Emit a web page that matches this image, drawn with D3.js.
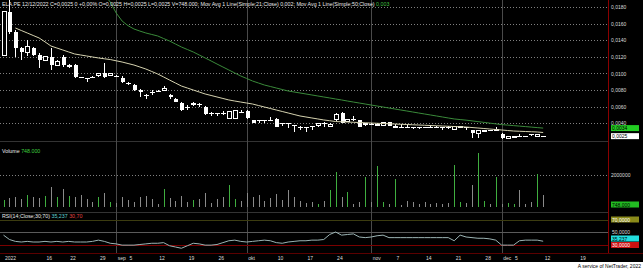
<!DOCTYPE html>
<html><head><meta charset="utf-8">
<script src="https://cdn.jsdelivr.net/npm/d3@7/dist/d3.min.js"></script>
<style>
html,body{margin:0;padding:0;background:#000;}
svg{display:block;}
text{font-family:"Liberation Sans",Arial,sans-serif;}
</style>
</head><body>
<svg id="c" width="643" height="269"></svg>
<script>
// ---------------- DATA ----------------
const dates = [
"2022-08-04","2022-08-05","2022-08-08","2022-08-09","2022-08-10","2022-08-11","2022-08-12","2022-08-16","2022-08-17","2022-08-18",
"2022-08-19","2022-08-22","2022-08-23","2022-08-24","2022-08-25","2022-08-26","2022-08-29","2022-08-30","2022-08-31","2022-09-01",
"2022-09-02","2022-09-05","2022-09-06","2022-09-07","2022-09-08","2022-09-09","2022-09-12","2022-09-13","2022-09-14","2022-09-15",
"2022-09-16","2022-09-19","2022-09-20","2022-09-21","2022-09-22","2022-09-23","2022-09-26","2022-09-27","2022-09-28","2022-09-29",
"2022-09-30","2022-10-03","2022-10-04","2022-10-05","2022-10-06","2022-10-07","2022-10-10","2022-10-11","2022-10-12","2022-10-13",
"2022-10-14","2022-10-17","2022-10-18","2022-10-19","2022-10-20","2022-10-21","2022-10-24","2022-10-25","2022-10-26","2022-10-27",
"2022-10-28","2022-10-31","2022-11-01","2022-11-02","2022-11-03","2022-11-04","2022-11-07","2022-11-08","2022-11-09","2022-11-10",
"2022-11-11","2022-11-14","2022-11-15","2022-11-16","2022-11-17","2022-11-18","2022-11-21","2022-11-22","2022-11-23","2022-11-24",
"2022-11-25","2022-11-28","2022-11-29","2022-11-30","2022-12-01","2022-12-02","2022-12-05","2022-12-06","2022-12-07","2022-12-08",
"2022-12-09","2022-12-12"];

const open = [
.0122,.0174,.0150,.0131,.0125,.0131,.0122,.0116,.0120,.0110,
.0120,.0108,.0110,.0096,.0094,.0096,.0097,.0100,.0098,.0097,
.0094,.0089,.0086,.0080,.0074,.0078,.0079,.0079,.0074,.0069,
.0064,.0060,.0062,.0063,.0060,.0052,.0052,.0052,.0046,.0046,
.0054,.0055,.0044,.0044,.0044,.0044,.0045,.0040,.0040,.0038,
.0036,.0036,.0037,.0037,.0040,.0036,.0044,.0052,.0042,.0045,
.0044,.0038,.0039,.0038,.0037,.0041,.0035,.0036,.0036,.0036,
.0036,.0036,.0035,.0036,.0036,.0035,.0033,.0035,.0035,.0032,
.0028,.0030,.0032,.0031,.0027,.0022,.0023,.0025,.0025,.0027,
.0024,.0025];
const high = [
.0175,.0188,.0152,.0132,.0140,.0132,.0125,.0121,.0131,.0116,
.0122,.0111,.0111,.0096,.0094,.0097,.0101,.0113,.0101,.0098,
.0097,.0090,.0087,.0081,.0075,.0080,.0080,.0085,.0075,.0070,
.0065,.0062,.0065,.0064,.0061,.0053,.0052,.0055,.0054,.0055,
.0056,.0056,.0044,.0044,.0044,.0048,.0046,.0040,.0040,.0038,
.0037,.0036,.0037,.0040,.0041,.0040,.0052,.0053,.0045,.0049,
.0044,.0040,.0040,.0040,.0042,.0042,.0039,.0039,.0038,.0036,
.0036,.0036,.0038,.0037,.0036,.0037,.0036,.0036,.0035,.0032,
.0032,.0031,.0032,.0035,.0028,.0024,.0024,.0027,.0025,.0027,
.0026,.0025];
const low = [
.0121,.0147,.0120,.0116,.0121,.0121,.0107,.0115,.0104,.0109,
.0108,.0107,.0094,.0094,.0090,.0095,.0096,.0095,.0097,.0096,
.0089,.0086,.0079,.0072,.0069,.0074,.0078,.0079,.0069,.0065,
.0055,.0056,.0061,.0060,.0050,.0049,.0049,.0050,.0046,.0045,
.0052,.0045,.0040,.0040,.0040,.0044,.0035,.0037,.0034,.0030,
.0032,.0030,.0032,.0036,.0036,.0036,.0043,.0040,.0041,.0043,
.0035,.0037,.0039,.0038,.0037,.0037,.0035,.0036,.0035,.0033,
.0033,.0034,.0035,.0035,.0032,.0033,.0033,.0035,.0032,.0022,
.0022,.0030,.0031,.0031,.0021,.0022,.0023,.0024,.0025,.0024,
.0024,.0025];
const close = [
.0174,.0150,.0131,.0126,.0132,.0122,.0116,.0120,.0110,.0114,
.0110,.0110,.0096,.0096,.0094,.0096,.0100,.0096,.0100,.0097,
.0090,.0089,.0080,.0077,.0074,.0078,.0079,.0082,.0071,.0066,
.0056,.0060,.0064,.0063,.0051,.0052,.0052,.0052,.0054,.0055,
.0054,.0046,.0040,.0044,.0044,.0044,.0036,.0040,.0040,.0038,
.0036,.0036,.0037,.0040,.0040,.0039,.0051,.0040,.0045,.0045,
.0036,.0040,.0039,.0039,.0041,.0037,.0036,.0036,.0036,.0036,
.0036,.0036,.0035,.0036,.0036,.0035,.0036,.0036,.0035,.0028,
.0031,.0031,.0032,.0033,.0022,.0024,.0024,.0025,.0025,.0027,
.0026,.0025];
const volume = [
450000,550000,600000,500000,750000,600000,550000,700000,1250000,650000,
1150000,700000,600000,750000,500000,300000,600000,850000,300000,250000,
600000,450000,300000,600000,700000,500000,200000,1150000,550000,400000,
700000,300000,450000,500000,850000,250000,500000,600000,1350000,500000,
350000,850000,600000,750000,350000,550000,800000,450000,1050000,600000,
400000,250000,300000,200000,350000,1040000,2190000,630000,940000,200000,
300000,1880000,300000,2540000,300000,200000,1770000,150000,400000,300000,
200000,300000,200000,250000,200000,250000,2600000,300000,250000,1350000,
3375000,400000,200000,1880000,200000,250000,200000,1040000,200000,300000,
2080000,748000];
const ma21 = [
null,null,.01547,.01517,.01487,.01457,.01427,.01380,.01330,.01306,
.01282,.01258,.01234,.01222,.01210,.01198,.01186,.01176,.01167,.01152,
.01137,.01119,.01101,.01077,.01053,.01023,.00993,.00957,.00920,.00884,
.00848,.00824,.00800,.00776,.00752,.00734,.00716,.00698,.00680,.00667,
.00655,.00643,.00631,.00613,.00595,.00577,.00559,.00541,.00523,.00505,
.00487,.00475,.00463,.00451,.00439,.00430,.00420,.00417,.00414,.00411,
.00408,.00405,.00402,.00399,.00396,.00393,.00390,.00387,.00384,.00381,
.00378,.00375,.00372,.00369,.00366,.00363,.00360,.00357,.00354,.00348,
.00342,.00336,.00330,.00324,.00318,.00312,.00306,.00303,.00300,.00297,
.00294,.00288];
const ma50 = [
null,null,null,null,null,null,null,null,null,null,
null,null,null,null,null,null,null,.01950,.01860,.01728,
.01631,.01575,.01535,.01510,.01487,.01469,.01451,.01420,.01390,.01354,
.01318,.01288,.01258,.01222,.01186,.01150,.01113,.01077,.01041,.01005,
.00969,.00939,.00908,.00884,.00860,.00842,.00824,.00806,.00788,.00776,
.00764,.00752,.00740,.00728,.00716,.00704,.00692,.00680,.00667,.00655,
.00643,.00631,.00619,.00607,.00595,.00583,.00571,.00559,.00547,.00535,
.00523,.00511,.00499,.00487,.00475,.00463,.00451,.00444,.00437,.00428,
.00419,.00410,.00401,.00392,.00383,.00377,.00371,.00365,.00359,.00353,
.00347,.00341];
const rsi = [
45,38,35,34,35,34,34,35,34,35,
34,35,34,34,34,35,37,35,32,31,
29,29,29,30,31,32,32,33,28,26,
24,28,32,31,29,29,30,33,36,37,
35,34,35,36,37,36,33,32,34,35,
36,36,37,37,38,46,50,45,46,47,
42,41,42,44,45,41,41,41,41,41,
41,41,41,41,41,41,36,45,42,41,
40,40,39,37,29,29,29,36,37,37,
37,35.237];

const priceTicks = [0.004,0.006,0.008,0.010,0.012,0.014,0.016,0.018];
const volTicks = [2000000];
const rsiLevels = [70,50,30];
// x-axis tick labels: [trading-day index, label]
const xTickIdx = [0,7,11,16,19,21,26,31,36,41,46,51,56,62,66,71,76,81,84,86,91,97];
const xTickLbl = ["2022","16","22","29","sep","5","12","19","26","okt","10","17","24","nov","7","14","21","28","dec","5","12","19"];
const monthStartIdx = [19,41,62,84];

// ---------------- LAYOUT ----------------
const W = 643, H = 269, R = 608;
const svg = d3.select("#c");
svg.append("rect").attr("width",W).attr("height",H).attr("fill","#000");
svg.append("rect").attr("x",0).attr("y",262).attr("width",W).attr("height",7).attr("fill","#fff");

const x = d3.scaleLinear().domain([0,102]).range([3.5,608.4]);
const yP = d3.scaleLinear().domain([0.004,0.018]).range([123.2,7]);
const yV = d3.scaleLinear().domain([0,2000000]).range([207,175]);
const yR = d3.scaleLinear().domain([30,70]).range([244.5,219.5]);
const fmt4 = v => d3.format(".4f")(v).replace(".",",");

const defs = svg.append("defs");
defs.append("clipPath").attr("id","cp").append("rect").attr("x",0).attr("y",0).attr("width",R).attr("height",141);
defs.append("clipPath").attr("id","cv").append("rect").attr("x",0).attr("y",143).attr("width",R).attr("height",69);
defs.append("clipPath").attr("id","cr").append("rect").attr("x",0).attr("y",214).attr("width",R).attr("height",39);

// panel separators
svg.selectAll("line.sep").data([141.5,212.5]).join("line").attr("class","sep")
  .attr("x1",0).attr("x2",R).attr("y1",d=>d).attr("y2",d=>d).attr("stroke","#333");

// vertical month lines
svg.selectAll("line.vm").data(monthStartIdx).join("line").attr("class","vm")
  .attr("x1",d=>Math.round(x(d))+0.5).attr("x2",d=>Math.round(x(d))+0.5)
  .attr("y1",0).attr("y2",253).attr("stroke","#4a4a4a");

// price grid
svg.selectAll("line.pg").data(priceTicks).join("line").attr("class","pg")
  .attr("x1",0).attr("x2",R).attr("y1",d=>Math.round(yP(d))+0.5).attr("y2",d=>Math.round(yP(d))+0.5)
  .attr("stroke","#808080").attr("stroke-dasharray","1,2");

// price axis
const pa = svg.append("g").attr("transform",`translate(${R+3},0)`)
  .call(d3.axisRight(yP).tickValues(priceTicks).tickFormat(fmt4).tickSize(0).tickPadding(0));
pa.select(".domain").remove();
pa.selectAll("text").attr("fill","#ddd").style("font-size","5px").style("font-family","Liberation Sans");

// candles
const gc = svg.append("g").attr("clip-path","url(#cp)").attr("shape-rendering","crispEdges");
const idx = d3.range(dates.length);
gc.selectAll("line.wick").data(idx).join("line").attr("class","wick")
  .attr("x1",i=>Math.round(x(i))+0.5).attr("x2",i=>Math.round(x(i))+0.5)
  .attr("y1",i=>yP(high[i])).attr("y2",i=>yP(low[i])).attr("stroke","#fff");
gc.selectAll("rect.body").data(idx.filter(i=>open[i]!==close[i])).join("rect").attr("class","body")
  .attr("x",i=>Math.round(x(i))-1.5)
  .attr("y",i=>yP(Math.max(open[i],close[i])))
  .attr("width",4)
  .attr("height",i=>Math.max(1,Math.abs(yP(open[i])-yP(close[i]))))
  .attr("fill",i=>close[i]>open[i]?"#000":"#fff")
  .attr("stroke","#fff").attr("stroke-width",i=>close[i]>open[i]?1:0);
gc.selectAll("line.doji").data(idx.filter(i=>open[i]===close[i])).join("line").attr("class","doji")
  .attr("x1",i=>Math.round(x(i))-2).attr("x2",i=>Math.round(x(i))+3)
  .attr("y1",i=>Math.round(yP(close[i]))+0.5).attr("y2",i=>Math.round(yP(close[i]))+0.5).attr("stroke","#fff");

// moving averages
const maLine = d3.line().defined(d=>d!=null).x((d,i)=>x(i)).y(d=>yP(d));
const gm = svg.append("g").attr("clip-path","url(#cp)");
gm.append("path").datum(ma50).attr("d",maLine).attr("fill","none").attr("stroke","#3a8a3a").attr("stroke-width",1);
gm.append("path").datum(ma21).attr("d",maLine).attr("fill","none").attr("stroke","#d6d3b0").attr("stroke-width",1);

// volume
svg.selectAll("line.vg").data(volTicks).join("line").attr("class","vg")
  .attr("x1",0).attr("x2",R).attr("y1",d=>Math.round(yV(d))+0.5).attr("y2",d=>Math.round(yV(d))+0.5)
  .attr("stroke","#808080").attr("stroke-dasharray","1,2");
const va = svg.append("g").attr("transform",`translate(${R+3},0)`)
  .call(d3.axisRight(yV).tickValues(volTicks).tickFormat(d3.format("d")).tickSize(0).tickPadding(0));
va.select(".domain").remove();
va.selectAll("text").attr("fill","#ddd").style("font-size","5px");
const gv = svg.append("g").attr("clip-path","url(#cv)").attr("shape-rendering","crispEdges");
gv.selectAll("line.vb").data(idx).join("line").attr("class","vb")
  .attr("x1",i=>Math.round(x(i))+0.5).attr("x2",i=>Math.round(x(i))+0.5)
  .attr("y1",yV(0)).attr("y2",i=>yV(volume[i]))
  .attr("stroke",i=>close[i]>open[i]?"#3fae3f":"#8a8a8a");

// RSI
const rsiCol = {70:"#3c3c10",50:"#5a5a5a",30:"#7a0000"};
svg.selectAll("line.rl").data(rsiLevels).join("line").attr("class","rl")
  .attr("x1",0).attr("x2",R).attr("y1",d=>Math.round(yR(d))+0.5).attr("y2",d=>Math.round(yR(d))+0.5)
  .attr("stroke",d=>rsiCol[d]);
const gr = svg.append("g").attr("clip-path","url(#cr)");
gr.append("path").datum(rsi).attr("d",d3.line().x((d,i)=>x(i)).y(d=>yR(d)))
  .attr("fill","none").attr("stroke","#9cb4b4").attr("stroke-width",1);

// right axis frame
svg.append("line").attr("x1",R+0.5).attr("x2",R+0.5).attr("y1",0).attr("y2",253).attr("stroke","#8a0000");
svg.append("line").attr("x1",0).attr("x2",W).attr("y1",253.5).attr("y2",253.5).attr("stroke","#5a0000");

// x axis labels
const xa = svg.append("g").attr("transform","translate(0,256)")
  .call(d3.axisBottom(x).tickValues(xTickIdx).tickFormat((d,i)=>xTickLbl[i]).tickSize(0).tickPadding(0));
xa.select(".domain").remove();
xa.selectAll("text").attr("fill","#ddd").attr("text-anchor","start").attr("dx",1).style("font-size","5px");

// right-side value boxes
function box(yc, txt, bg, fg){
  svg.append("rect").attr("x",R+3).attr("y",yc-3).attr("width",28).attr("height",6).attr("fill",bg);
  svg.append("text").attr("x",R+4).attr("y",yc+2).attr("fill",fg).style("font-size","5px").text(txt);
}
box(yP(ma50[ma50.length-1]), fmt4(ma50[ma50.length-1]), "#22cc22", "#000");
box(yP(close[close.length-1])+0.5, fmt4(close[close.length-1]), "#fff", "#000");
box(204.5, d3.format(",")(volume[volume.length-1]).replace(/,/g,"."), "#22bb22", "#000");
box(yR(70), "70,0000", "#8a8a1a", "#fff");
svg.append("text").attr("x",R+4).attr("y",yR(50)+2).attr("fill","#ddd").style("font-size","5px").text("50,0000");
box(238.5, d3.format(".3f")(rsi[rsi.length-1]).replace(".",","), "#22dddd", "#000");
box(yR(30)+0.5, "30,0000", "#cc1111", "#fff");

// headers
const hdr = svg.append("text").attr("x",2).attr("y",6).style("font-size","5.3px").attr("fill","#e8e8e8");
hdr.append("tspan").text("ELA.PE 12/12/2022 C=0,0025 0 +0,00% O=0,0025 H=0,0025 L=0,0025 V=748.000; Mov Avg 1 Line(Simple;21;Close) 0,002; Mov Avg 1 Line(Simple;50;Close) ");
hdr.append("tspan").attr("fill","#3fbf3f").text("0,003");

const vh = svg.append("text").attr("x",2).attr("y",153).style("font-size","5.3px").attr("fill","#e8e8e8");
vh.append("tspan").text("Volume ");
vh.append("tspan").attr("fill","#3fcf3f").text("748.000");

const rh = svg.append("text").attr("x",2).attr("y",218).style("font-size","5.3px").attr("fill","#e8e8e8");
rh.append("tspan").text("RSI(14;Close;30;70) ");
rh.append("tspan").attr("fill","#5fd0d0").text("35,237 ");
rh.append("tspan").attr("fill","#e04040").text("30,70");

svg.append("text").attr("x",641).attr("y",268).attr("text-anchor","end").attr("fill","#000")
  .style("font-size","5px").text("A service of NetTrader, 2022");
</script>
</body></html>
